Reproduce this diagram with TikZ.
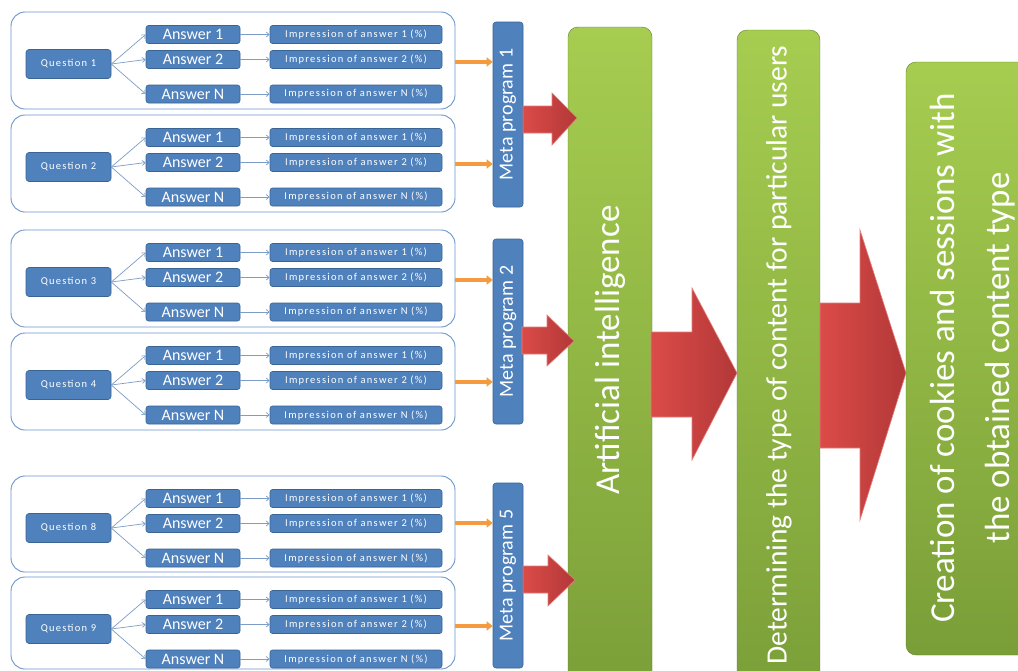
\documentclass[tikz,border=0pt]{standalone}
\usepackage{fontspec}
\setmainfont{Carlito}
\newfontfamily\spacedfont[LetterSpace=12]{Carlito}
\usetikzlibrary{arrows.meta}
\definecolor{boxblue}{HTML}{4F81BD}
\definecolor{boxedge}{HTML}{3A6494}
\definecolor{grpedge}{HTML}{6A94CC}
\definecolor{lineblue}{HTML}{7D9CC8}
\definecolor{greentop}{HTML}{A6CD50}
\definecolor{greenbot}{HTML}{7A9E38}
\definecolor{redL}{HTML}{DB4B48}
\definecolor{redR}{HTML}{B23838}
\definecolor{redEdge}{HTML}{E27F7C}
\definecolor{orangeA}{HTML}{F59A3E}
\definecolor{orangeEdge}{HTML}{C2772C}
\tikzset{
  grp/.style={draw=grpedge, line width=0.9pt, fill=white, rounded corners=14pt, minimum width=444pt, inner sep=0pt},
  qbox/.style={draw=boxedge, line width=0.6pt, fill=boxblue, rounded corners=3pt, minimum width=85pt, minimum height=29pt, inner sep=0pt, text=white, font=\spacedfont\fontsize{10.5}{12}\selectfont},
  abox/.style={draw=boxedge, line width=0.6pt, fill=boxblue, rounded corners=2.5pt, minimum width=94pt, minimum height=18pt, inner sep=0pt, text=white, font=\fontsize{16}{17}\selectfont},
  ibox/.style={draw=boxedge, line width=0.6pt, fill=boxblue, rounded corners=2.5pt, minimum width=172pt, minimum height=18pt, inner sep=0pt, text=white, font=\spacedfont\fontsize{10.5}{12}\selectfont},
  metabox/.style={draw=boxedge, line width=0.6pt, fill=boxblue, rounded corners=3pt, minimum width=30pt, minimum height=185pt, inner sep=0pt},
  metatext/.style={rotate=90, text=white, font=\fontsize{20}{22}\selectfont, inner sep=0pt},
  greenbox/.style={top color=greentop, bottom color=greenbot, draw=greenbot!80!black, line width=0.4pt, rounded corners=10pt, inner sep=0pt},
  bigtext/.style={rotate=90, text=white, inner sep=0pt, align=center},
  thinarrow/.style={draw=lineblue, line width=0.7pt, -{Straight Barb[length=3pt,width=5pt]}},
  orarrow/.style={draw=orangeA, line width=3.5pt, -{Triangle[length=6pt,width=9pt]}},
  redarrow/.style={left color=redL, right color=redR, draw=redEdge, line width=0.6pt}
}
\begin{document}
\begin{tikzpicture}[x=1pt,y=-1pt]
\useasboundingbox (0,0) rectangle (1018,670);
\clip (0,0) rectangle (1018,670);
\fill[white] (0,0) rectangle (1018,670);
% question groups
\foreach \t/\h/\q/\g in {12/97/1/a,115/97/2/b,230/97/3/c,333/97/4/d,476/96/8/e,577/92/9/f}{
  \node[grp, minimum height=\h pt] (G\g) at (233,\t+\h/2) {};
  \node[qbox] (Q\g) at (68.5,\t+52) {Question \q};
  \node[abox] (A1\g) at (193,\t+22.5) {Answer 1};
  \node[abox] (A2\g) at (193,\t+47.5) {Answer 2};
  \node[abox] (AN\g) at (193,\t+82) {Answer N};
  \node[ibox] (I1\g) at (356,\t+22.5) {Impression of answer 1 (\%)};
  \node[ibox] (I2\g) at (356,\t+47.5) {Impression of answer 2 (\%)};
  \node[ibox] (IN\g) at (356,\t+82) {Impression of answer N (\%)};
  \draw[thinarrow] (Q\g.east) -- (A1\g.west);
  \draw[thinarrow] (Q\g.east) -- (A2\g.west);
  \draw[thinarrow] (Q\g.east) -- (AN\g.west);
  \draw[thinarrow] (A1\g.east) -- (I1\g.west);
  \draw[thinarrow] (A2\g.east) -- (I2\g.west);
  \draw[thinarrow] (AN\g.east) -- (IN\g.west);
}
% meta programs
\node[metabox] (M1) at (508,114.5) {};
\node[metatext] (M1t) at (M1) {Meta program 1};
\node[metabox] (M2) at (508,331.5) {};
\node[metatext] (M2t) at (M2) {Meta program 2};
\node[metabox] (M5) at (508,575.5) {};
\node[metatext] (M5t) at (M5) {Meta program 5};
% orange arrows
\draw[orarrow] (Ga.east |- 0,62) -- (M1.west |- 0,62);
\draw[orarrow] (Gb.east |- 0,164) -- (M1.west |- 0,164);
\draw[orarrow] (Gc.east |- 0,280) -- (M2.west |- 0,280);
\draw[orarrow] (Gd.east |- 0,382) -- (M2.west |- 0,382);
\draw[orarrow] (Ge.east |- 0,523) -- (M5.west |- 0,523);
\draw[orarrow] (Gf.east |- 0,626) -- (M5.west |- 0,626);
% green boxes
\node[greenbox, minimum width=84pt, minimum height=680pt] (AI) at (610,367) {};
\node[bigtext, font=\fontsize{35}{40}\selectfont] (AIt) at (610,350) {Artificial intelligence};
\node[greenbox, minimum width=83pt, minimum height=680pt] (DT) at (778.5,370) {};
\node[bigtext, font=\fontsize{29.5}{34}\selectfont] (DTt) at (779,355) {Determining the type of content for particular users};
\node[greenbox, minimum width=140pt, minimum height=593pt] (CR) at (976,358.5) {};
\node[bigtext, font=\fontsize{35}{55}\selectfont] (CRt) at (973,358) {Creation of cookies and sessions with\\the obtained content type};
% red block arrows
\draw[redarrow] (523,106) -- (552,106) -- (552,93) -- (577,118) -- (552,145) -- (552,133) -- (523,133) -- cycle;
\draw[redarrow] (522,327) -- (547,327) -- (547,315) -- (574,341) -- (547,366) -- (547,354) -- (522,354) -- cycle;
\draw[redarrow] (523,566) -- (548,566) -- (548,555) -- (575,580) -- (548,606) -- (548,593) -- (523,593) -- cycle;
\draw[redarrow] (651,332) -- (692,332) -- (692,288) -- (737,373) -- (692,460) -- (692,417) -- (651,417) -- cycle;
\draw[redarrow] (820,303) -- (860,303) -- (860,230) -- (906,373) -- (860,520) -- (860,448) -- (820,448) -- cycle;
\end{tikzpicture}
\end{document}
